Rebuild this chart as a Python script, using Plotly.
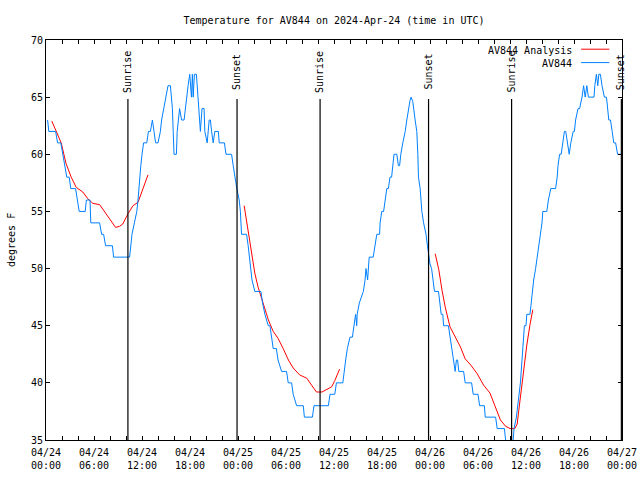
import pandas as pd
import plotly.graph_objects as go

# ---------------- data ----------------
base_time = "2024-04-24 00:00"

# AV844 observations (hours since 2024-04-24 00:00 UTC, deg F)
obs_hours = [0.2, 0.35, 1.2, 1.45, 1.85, 2.1, 2.3, 2.6, 2.9, 3.1, 3.7, 3.9, 4.15, 4.9, 5.05, 5.5, 5.6, 6.7,
             6.95, 7.2, 7.45, 8.3, 8.45, 10.45, 10.6, 10.75, 11.05, 11.35, 11.5, 11.7, 11.85, 12.0, 12.2,
             12.6, 12.8, 13.05, 13.3, 13.5, 13.7, 14.0, 14.3, 14.45, 14.7, 14.96, 15.25, 15.55, 15.8, 15.9,
             16.0, 16.3, 16.4, 16.7, 16.95, 17.26, 17.4, 17.55, 17.76, 17.97, 18.18, 18.3, 18.4, 18.55,
             18.8, 19.0, 19.1, 19.3, 19.5, 19.76, 19.85, 20.15, 20.4, 20.55, 20.7, 20.9, 21.1, 21.55,
             21.65, 22.3, 22.5, 23.2, 23.4, 23.6, 23.85, 24.15, 24.3, 24.44, 24.65, 25.07, 25.27, 25.45,
             25.57, 25.75, 26.1, 26.86, 27.07, 27.36, 27.78, 27.99, 28.2, 28.4, 28.8, 29.0, 29.45, 30.07,
             30.28, 30.7, 30.9, 31.33, 32.16, 32.3, 33.3, 33.5, 35.3, 35.5, 36.1, 36.3, 37.1, 37.25,
             37.46, 37.67, 38.0, 38.3, 38.5, 38.7, 38.84, 38.9, 39.17, 39.67, 39.88, 40.0, 40.2, 40.4,
             40.9, 41.1, 41.35, 41.7, 41.76, 41.97, 42.2, 42.4, 42.6, 42.8, 43.0, 43.2, 43.35, 43.5,
             43.85, 44.05, 44.2, 44.35, 44.6, 44.9, 45.1, 45.3, 45.5, 45.64, 45.85, 46.14, 46.35, 46.48,
             46.56, 46.77, 46.98, 47.2, 47.5, 47.68, 48.0, 48.2, 48.36, 48.56, 49.06, 49.2, 49.4, 49.6,
             49.7, 50.3, 50.5, 50.7, 50.94, 51.15, 51.3, 51.45, 51.6, 52.2, 52.4, 53.2, 53.4, 54.0, 54.2,
             54.8, 54.9, 56.2, 56.4, 57.3, 57.45, 57.6, 58.3, 58.4, 58.5, 58.8, 58.95, 59.1, 59.3, 59.5,
             59.6, 59.7, 59.8, 60.0, 60.1, 60.5, 60.8, 60.96, 61.2, 61.4, 61.58, 61.8, 62.0, 62.1, 62.6,
             62.8, 63.1, 63.7, 63.9, 64.0, 64.2, 64.4, 64.6, 64.8, 64.97, 65.2, 65.4, 65.6, 65.9, 66.05,
             66.2, 66.5, 66.7, 67.0, 67.2, 67.4, 67.6, 67.8, 68.5, 68.6, 68.8, 68.97, 69.1, 69.3, 69.5,
             69.8, 70.06, 70.35, 70.56, 70.77, 70.97, 71.2, 71.45, 71.94]
obs_temps = [63, 62, 62, 61, 61, 60, 59, 58, 58, 57, 57, 56, 55, 55, 56, 56, 54, 54,
             53, 53, 52, 52, 51, 51, 52, 53, 54, 55, 56, 58, 59, 60, 61,
             61, 62, 62, 63, 62, 61, 61, 62, 63, 64, 65, 66, 66, 64, 62,
             60, 60, 62, 64, 63, 63, 64, 65, 66, 67, 65, 67, 65, 67,
             67, 65, 64, 62, 64, 64, 62, 61, 63, 63, 62, 61, 62, 62,
             61, 61, 60, 60, 59, 58, 57, 56, 55, 53, 53, 53, 52, 51,
             50, 49, 48, 48, 47, 46, 45, 45, 44, 43, 43, 42, 41, 41,
             40, 40, 39, 38, 38, 37, 37, 38, 38, 39, 39, 40, 40, 41,
             42, 43, 44, 44, 45, 46, 45, 46, 47, 48, 49, 50, 49, 51,
             51, 52, 53, 53, 54, 55, 55, 56, 57, 57, 58, 58, 59, 60,
             60, 59, 59, 60, 61, 62, 63, 64, 64.7, 65, 64.6, 63, 62, 60,
             58, 57, 55, 54, 53, 52, 50.4, 50, 49, 48, 48, 47, 46, 46,
             45, 45, 44, 43, 42, 41, 42, 42, 41, 41, 40, 40, 39, 39, 38,
             38, 37, 37, 36, 36, 35, 34, 34, 35, 36, 37, 38, 39, 40, 42,
             43, 44, 45, 45, 46, 46, 48, 49, 50, 51, 52, 53, 54, 55, 55,
             56, 57, 57, 58, 59, 60, 60, 61, 62, 62, 61, 60, 61, 62, 62,
             63, 64, 64, 65, 66, 65, 66, 65, 65, 66, 67, 66, 67, 67, 66,
             65, 65, 63, 63, 62, 61, 61, 60, 60]

# AV844 Analysis (three nightly segments)
ana1_hours = [0.73, 1.27, 1.9, 2.5, 3.15, 3.78, 4.6, 5.24, 5.86, 6.7, 7.33, 7.95, 8.7, 9.2, 9.6,
              10.25, 10.87, 11.5, 11.9, 12.75]
ana1_temps = [62.9, 62.0, 61.0, 59.2, 58.0, 57.1, 56.7, 56.1, 55.7, 55.6, 54.95, 54.3, 53.6, 53.7, 53.9,
              54.8, 55.5, 55.8, 56.55, 58.2]
ana2_hours = [24.77, 25.07, 25.5, 25.9, 26.1, 26.5, 27.15, 27.8, 28.4, 29.0, 29.65, 30.3, 30.9, 31.7,
              32.6, 33.2, 33.8, 34.5, 35.1, 35.7, 36.1, 36.7]
ana2_temps = [55.5, 54.2, 52.5, 50.8, 49.6, 48.4, 46.95, 45.5, 44.5, 43.9, 43.0, 42.0, 41.3, 40.7,
              40.4, 39.8, 39.2, 39.2, 39.4, 39.65, 40.2, 41.2]
ana3_hours = [48.65, 49.1, 49.5, 49.9, 50.5, 51.2, 51.8, 52.4, 53.1, 53.9, 54.7, 55.5, 56.2, 56.8,
              57.45, 58.0, 58.6, 58.9, 59.1, 59.4, 59.7, 60.1, 60.5, 60.85]
ana3_temps = [51.3, 49.9, 48.1, 46.65, 44.9, 43.9, 43.15, 42.1, 41.55, 40.8, 39.8, 39.1, 37.9, 36.75,
              36.2, 36.0, 36.0, 36.4, 37.6, 39.4, 41.4, 43.3, 45.1, 46.4]

sunrise_hours = [10.24, 34.26, 58.2]
sunset_hours = [23.88, 47.82, 71.92]

tick_hours = list(range(0, 73, 2))

title_text = "Temperature for AV844 on 2024-Apr-24 (time in UTC)"
ylabel_text = "degrees F"
legend_names = ["AV844 Analysis", "AV844"]

# ---------------- helpers ----------------
t0 = pd.Timestamp(base_time)


def to_time(hours):
    return [t0 + pd.Timedelta(hours=h) for h in hours]


FONT = "DejaVu Sans Mono"
BLUE = "#0080ff"
RED = "#ff0000"

fig = go.Figure()

for hh, tt in [(ana1_hours, ana1_temps), (ana2_hours, ana2_temps), (ana3_hours, ana3_temps)]:
    fig.add_trace(go.Scatter(x=to_time(hh), y=tt, mode="lines",
                             line=dict(color=RED, width=1), showlegend=False,
                             name=legend_names[0]))

fig.add_trace(go.Scatter(x=to_time(obs_hours), y=obs_temps, mode="lines",
                         line=dict(color=BLUE, width=1), showlegend=False,
                         name=legend_names[1]))

shapes = []
annotations = []
line_top = 0.8525
for label, hours in [("Sunrise", sunrise_hours), ("Sunset", sunset_hours)]:
    for h in hours:
        tx = t0 + pd.Timedelta(hours=h)
        shapes.append(dict(type="line", xref="x", yref="paper", x0=tx, x1=tx, y0=0, y1=line_top,
                           line=dict(color="black", width=1.2), layer="above"))
        annotations.append(dict(text=label, xref="x", yref="paper", x=tx, y=0.92,
                                textangle=-90, showarrow=False, xanchor="center", yanchor="middle",
                                font=dict(family=FONT, size=10, color="black")))

# manual gnuplot-style legend (text left, sample right)
leg_rows = [(legend_names[0], RED, 0.975), (legend_names[1], BLUE, 0.9415)]
for name, col, yy in leg_rows:
    annotations.append(dict(text=name, xref="paper", yref="paper", x=0.917, y=yy,
                            xanchor="right", yanchor="middle", showarrow=False,
                            font=dict(family=FONT, size=10, color="black")))
    shapes.append(dict(type="line", xref="paper", yref="paper", x0=0.929, x1=0.978, y0=yy + 0.002,
                       y1=yy + 0.002, line=dict(color=col, width=1)))

annotations.append(dict(text=ylabel_text, xref="paper", yref="paper", x=0, y=0.5, xshift=-35,
                        textangle=-90, showarrow=False, xanchor="center", yanchor="middle",
                        font=dict(family=FONT, size=10, color="black")))

tick_vals = to_time(tick_hours)
tick_text = []
for h in tick_hours:
    if h % 6 == 0:
        tt = t0 + pd.Timedelta(hours=h)
        tick_text.append(tt.strftime("%m/%d") + "<br>" + tt.strftime("%H:%M"))
    else:
        tick_text.append("")

fig.update_layout(
    width=640, height=480,
    margin=dict(l=46, r=18, t=40, b=40, autoexpand=False),
    paper_bgcolor="white", plot_bgcolor="white",
    font=dict(family=FONT, size=10, color="black"),
    title=dict(text=title_text, x=0.5, xref="paper", y=1 - 20 / 480, yanchor="middle",
               xanchor="center", font=dict(family=FONT, size=10, color="black")),
    shapes=shapes, annotations=annotations, showlegend=False,
)
fig.update_xaxes(range=[t0, t0 + pd.Timedelta(hours=72)], tickmode="array", tickvals=tick_vals,
                 ticktext=tick_text, ticks="inside", ticklen=4, tickcolor="black",
                 showline=True, linecolor="black", linewidth=1, mirror="allticks",
                 automargin=False, ticklabelstandoff=3,
                 showgrid=False, zeroline=False, tickfont=dict(family=FONT, size=10, color="black"))
fig.update_yaxes(range=[35, 70], dtick=5, tick0=35, ticks="inside", ticklen=4, tickcolor="black",
                 showline=True, linecolor="black", linewidth=1, mirror="allticks",
                 automargin=False,
                 showgrid=False, zeroline=False, tickfont=dict(family=FONT, size=10, color="black"))

fig.write_html("out.html")
